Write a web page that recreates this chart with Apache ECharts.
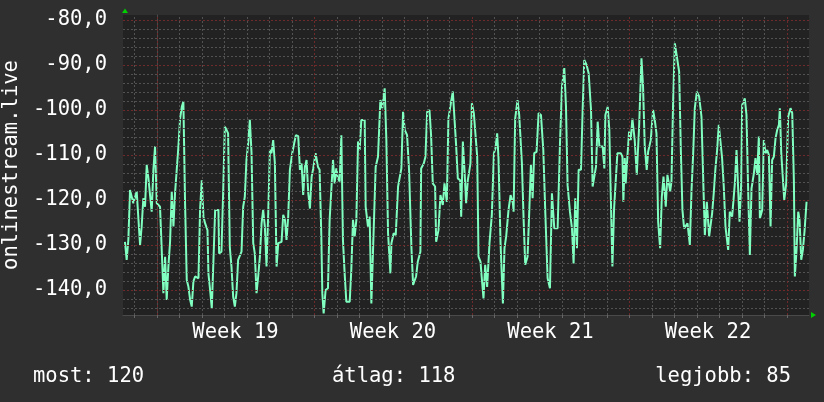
<!DOCTYPE html>
<html><head><meta charset="utf-8">
<script src="https://cdn.jsdelivr.net/npm/echarts@6/dist/echarts.min.js"></script>
<style>html,body{margin:0;padding:0;background:#2f2f2f}#c{width:824px;height:402px}</style>
</head><body><div id="c"></div>
<script>
// x = hours since the start of Week 19, y = signal value
const beforeWeek19 = [[-33.9,-129.3],[-32.1,-133.3],[-30.3,-128.9],[-28.5,-117.8],[-26.7,-117.4],[-25.0,-120.7],[-23.2,-120.7],[-21.4,-118.1],[-19.6,-118.1],[-17.8,-130.0],[-16.1,-125.9],[-14.3,-119.6],[-12.5,-121.5],[-10.7,-112.2],[-8.9,-115.2],[-7.2,-115.6],[-5.4,-122.6],[-3.6,-113.3],[-1.8,-108.1]];
const week19 = [[0.0,-120.7],[3.5,-121.5],[5.3,-121.9],[7.1,-140.7],[8.9,-132.6],[10.6,-142.2],[12.4,-134.8],[14.2,-129.3],[16.0,-118.1],[17.8,-125.9],[19.5,-118.5],[21.3,-118.5],[23.1,-108.1],[24.9,-101.9],[26.7,-99.3],[28.4,-98.1],[30.2,-120.7],[32.0,-137.8],[33.8,-139.3],[35.6,-142.2],[37.3,-143.7],[39.1,-138.1],[40.9,-137.0],[44.5,-137.4],[46.2,-122.2],[48.0,-115.6],[49.8,-123.7],[51.6,-125.2],[54.1,-126.7],[55.1,-136.3],[56.9,-140.0],[58.7,-144.1],[62.3,-122.2],[65.8,-122.2],
[66.5,-131.9],[69.0,-131.5],[70.8,-118.5],[72.6,-103.7],[74.4,-104.4],[76.1,-105.2],[77.9,-130.4],[79.7,-134.8],[81.5,-141.5],[83.3,-143.7],[85.0,-140.7],[86.8,-133.3],[90.4,-131.5],[92.2,-121.5],[93.9,-119.3],[95.7,-111.1],[97.5,-107.4],[99.3,-102.2],[101.1,-109.6],[102.9,-129.6],[104.6,-131.9],[106.4,-140.7],[108.2,-137.0],[110.0,-132.6],[111.8,-125.2],[113.5,-122.2],[115.3,-125.9],[117.1,-134.8],[118.9,-123.0],[120.7,-108.9],[122.4,-109.6],[124.2,-106.7],[126.0,-111.9],[127.8,-134.8],[129.6,-129.6],[133.1,-129.3],[134.9,-123.3],[136.7,-124.4],[138.4,-128.9],[140.2,-123.7],[142.0,-113.3],[144.5,-109.6],[146.6,-107.4],[148.4,-105.6],[150.9,-105.8],[152.7,-113.3],[154.5,-111.9],[156.2,-118.9],[158.0,-112.6],[159.8,-111.1],[161.6,-118.5],[163.4,-121.9],[165.2,-114.8],[166.9,-113.0]];
const week20 = [[169.4,-109.6],[170.2,-110.0],[171.9,-112.6],[173.7,-113.3],[175.5,-127.8],[176.6,-140.7],[178.0,-145.2],[180.1,-140.0],[182.6,-139.6],[184.4,-124.4],[186.2,-124.4],[188.0,-111.1],[189.7,-116.3],[191.5,-113.0],[193.3,-115.2],[195.1,-115.9],[196.9,-105.6],[198.6,-128.9],[200.4,-136.3],[202.2,-142.6],[205.8,-142.6],[207.5,-135.6],[209.3,-124.4],[211.1,-128.1],[212.9,-124.4],[214.7,-107.0],[216.4,-108.9],[218.2,-102.2],[221.8,-102.2],[222.8,-121.5],[225.3,-125.9],[227.1,-123.7],[228.9,-143.0],[230.7,-131.1],[233.5,-112.6],[236.0,-110.4],[238.5,-97.8],[240.6,-99.6],[243.1,-95.2],[244.9,-106.7],[246.7,-127.4],[249.2,-136.3],[250.3,-129.6],[252.7,-127.4],[254.9,-127.8],[257.4,-117.0],[260.9,-113.0],[262.7,-100.4],[264.5,-104.4],[267.0,-105.6],[269.1,-113.3],[271.6,-130.4],[273.4,-138.9],
[274.8,-139.3],[276.6,-137.0],[278.4,-133.7],[281.2,-131.5],[282.0,-113.0],[284.8,-111.9],[286.6,-110.4],[288.4,-100.4],[290.9,-100.0],[292.6,-105.6],[294.4,-116.3],[296.9,-117.0],[298.0,-129.3],[300.5,-126.7],[302.6,-118.9],[305.1,-121.1],[306.9,-116.3],[309.4,-120.4],[311.1,-101.9],[314.0,-98.1],[315.8,-95.9],[317.6,-95.9],[319.3,-107.8],[321.1,-115.2],[323.6,-115.6],[324.7,-123.7],[326.5,-107.0],[328.2,-113.3],[330.0,-120.7],[331.8,-115.6],[334.6,-111.9]];
const week21 = [[336.1,-98.5],[338.2,-100.7],[339.6,-101.1],[341.8,-110.4],[343.2,-132.6],[345.3,-133.7],[346.7,-137.4],[348.5,-141.9],[350.3,-134.4],[352.4,-139.3],[354.9,-129.6],[357.4,-123.3],[359.6,-109.6],[361.3,-108.5],[363.1,-105.2],[364.5,-110.7],[366.7,-129.6],[369.2,-143.0],[370.9,-130.7],[372.7,-128.1],[375.2,-122.2],[377.4,-118.9],[379.9,-120.7],
[380.6,-122.6],[382.3,-101.9],[384.8,-97.8],[386.6,-101.1],[389.5,-111.9],[391.2,-123.7],[393.0,-134.4],[395.5,-132.6],[397.3,-122.6],[399.1,-112.2],[400.9,-119.6],[402.6,-109.6],[405.1,-109.3],[407.3,-100.7],[409.8,-101.1],[412.3,-108.9],[414.4,-122.6],[416.9,-137.4],[419.4,-139.6],[421.5,-118.5],[424.0,-126.3],[427.6,-126.3],[430.1,-107.4],[432.2,-94.8],[434.7,-90.7],[436.5,-99.3],[438.2,-116.7],[440.7,-122.6],[442.9,-126.3],[444.6,-134.1],[446.4,-119.6],[448.2,-130.7],[450.0,-113.3],[452.5,-113.3],[454.3,-99.6],[456.0,-88.9],[458.5,-90.0],[460.7,-91.9],[463.2,-100.0],[464.9,-117.0],[466.7,-114.8],[468.5,-112.6],[470.3,-102.6],[472.1,-108.1],[475.6,-108.1],[477.4,-113.0],[478.5,-101.1],[481.0,-99.3],[482.7,-104.4],
[486.0,-134.8],[487.8,-121.9],[489.5,-121.5],[491.3,-109.6],[494.9,-109.6],[496.7,-110.4],[497.7,-120.4],[499.2,-110.7],[500.2,-116.3],[502.0,-110.4],[503.8,-104.8]];
const week22 = [[505.6,-106.7],[507.3,-101.9],[509.8,-106.7],[512.0,-114.4],[514.5,-103.7],[517.0,-88.5],[518.7,-94.8],[520.5,-108.1],[522.6,-113.3],[524.1,-109.3],[526.9,-106.7],[529.4,-100.0],[531.2,-102.2],[533.0,-105.2],[534.8,-124.8],[536.9,-130.7],[538.7,-119.3],[540.5,-114.8],[542.9,-121.5],[544.7,-114.4],[547.6,-118.1],[549.0,-115.9],[550.8,-97.8],[552.6,-85.2],[554.7,-85.6],[557.2,-91.5],[559.0,-108.9],[560.7,-122.2],[562.5,-126.3],[566.1,-125.2],[568.6,-130.0],[570.4,-117.8],[572.1,-110.0],[573.9,-99.6],[576.1,-95.9],[578.5,-97.0],[581.0,-101.5],[583.2,-117.8],[584.6,-127.8],[586.7,-120.4],[589.2,-128.1],
[592.4,-122.9],[594.1,-118.5],[595.9,-113.0],[597.7,-108.9],[599.5,-103.3],[601.3,-103.0],[603.0,-110.7],[604.8,-117.0],[606.6,-125.9],[609.5,-131.1],[611.2,-122.6],[613.7,-123.7],[615.5,-123.7],[616.6,-116.3],[618.4,-108.9],[620.1,-108.9],[621.6,-124.8],[623.3,-116.7],[624.4,-98.9],[627.2,-97.4],[629.0,-101.1],[630.8,-117.8],[632.6,-132.2],[634.4,-117.4],[636.9,-114.1],[638.6,-110.7],[640.4,-114.4],[642.2,-105.9],[643.3,-124.1],[645.8,-122.2],[647.5,-106.7],[649.3,-109.6],[651.1,-108.9],[652.9,-110.0],[654.7,-125.9],[656.4,-111.1],[658.2,-110.4],[660.0,-106.3],[661.8,-104.4],[663.6,-103.3],[664.6,-99.6],[666.1,-109.6],[667.8,-110.0],[669.3,-120.0],[671.4,-116.3],[673.5,-101.5],[676.0,-99.6],[677.8,-100.7],[679.6,-115.9],[680.6,-137.0],[682.4,-131.1],[684.2,-122.6],[685.6,-124.4],[687.4,-133.3],[689.2,-131.1],[690.9,-127.0],[693.1,-120.4]];

const weekLabels = ['Week 19','Week 20','Week 21','Week 22'];
const weekLabelHours = [84, 252, 420, 588];
const weekStartHours = [0, 168, 336, 504, 672];
const yLabelValues = [-140, -130, -120, -110, -100, -90, -80];
const footerTexts = ['most: 120', 'átlag: 118', 'legjobb: 85'];
const axisName = 'onlinestream.live';

const dayHours = [];
for (let h = -24; h <= 672; h += 24) dayHours.push(h);
const yMinorValues = [];
for (let v = -144; v <= -80; v += 2) if (v % 10 !== 0) yMinorValues.push(v);

const samples = beforeWeek19.concat(week19, week20, week21, week22);
const MONO = "'DejaVu Sans Mono', monospace";
const minorStyle = {color: '#525252', width: 1, type: [2, 2]};
const majorStyle = {color: '#6e2a2a', width: 1, type: [2, 2]};

const gridLines = []
  .concat(yMinorValues.map(v => ({yAxis: v, lineStyle: minorStyle})))
  .concat(dayHours.filter(h => h % 168 !== 0).map(h => ({xAxis: h, lineStyle: minorStyle})))
  .concat(yLabelValues.map(v => ({yAxis: v, lineStyle: majorStyle})))
  .concat(weekStartHours.map(h => ({xAxis: h, lineStyle: majorStyle})));

const chart = echarts.init(document.getElementById('c'));
chart.setOption({
  backgroundColor: '#2f2f2f',
  animation: false,
  grid: {left: 123, right: 15, top: 15, bottom: 87, show: true, backgroundColor: '#222222', borderWidth: 0,
    containLabel: false, outerBoundsMode: 'none'},
  xAxis: [{
    type: 'value', min: -36, max: 695.7,
    axisLine: {show: true, lineStyle: {color: '#4a4a4a'}},
    axisTick: {show: true, customValues: dayHours, length: 3, lineStyle: {color: '#666'}},
    axisLabel: {customValues: weekLabelHours, formatter: v => weekLabels[weekLabelHours.indexOf(v)] || '',
      color: '#ffffff', fontFamily: MONO, fontSize: 20.5, margin: 7},
    splitLine: {show: false}
  }],
  yAxis: [{
    type: 'value', min: -145.56, max: -78.89,
    axisLine: {show: true, lineStyle: {color: '#4a4a4a'}},
    axisTick: {show: false},
    axisLabel: {customValues: yLabelValues, formatter: v => v.toFixed(1).replace('.', ','),
      color: '#ffffff', fontFamily: MONO, fontSize: 20.5, margin: 16},
    splitLine: {show: false},
    name: axisName, nameLocation: 'middle', nameGap: 100,
    nameTextStyle: {color: '#ffffff', fontFamily: MONO, fontSize: 20.5}
  }],
  series: [
    {type: 'line', data: [], z: 1, silent: true,
      markLine: {silent: true, symbol: ['none', 'none'], label: {show: false}, animation: false, data: gridLines}},
    {type: 'line', data: samples, z: 3, symbol: 'none', showSymbol: false, silent: true,
      lineStyle: {color: '#80ffc0', width: 2}}
  ],
  graphic: [
    {type: 'polygon', shape: {points: [[122, 13], [128, 13], [125, 8.5]]}, style: {fill: '#00d000'}},
    {type: 'polygon', shape: {points: [[811, 312], [811, 318], [816, 315]]}, style: {fill: '#00d000'}},
    {type: 'text', left: 33, top: 366, style: {text: footerTexts[0], fill: '#ffffff', font: "20.5px 'DejaVu Sans Mono'"}},
    {type: 'text', left: 332, top: 366, style: {text: footerTexts[1], fill: '#ffffff', font: "20.5px 'DejaVu Sans Mono'"}},
    {type: 'text', right: 33, top: 366, style: {text: footerTexts[2], fill: '#ffffff', font: "20.5px 'DejaVu Sans Mono'"}}
  ]
});
</script></body></html>
